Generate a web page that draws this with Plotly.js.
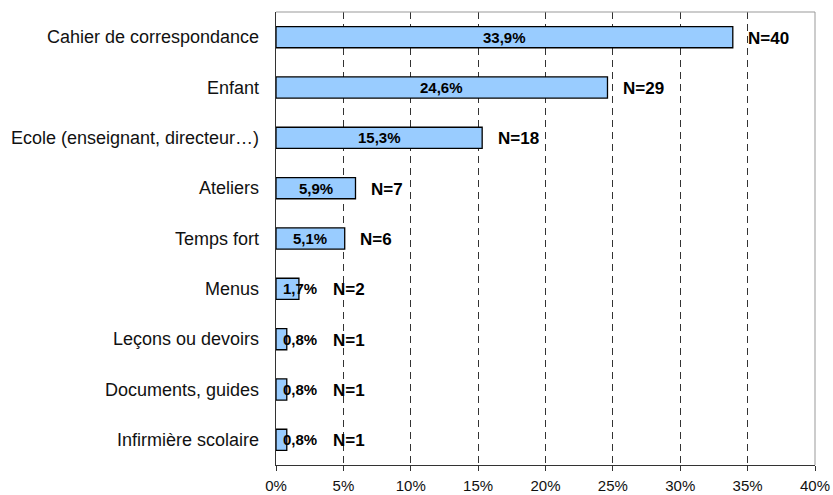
<!DOCTYPE html>
<html>
<head>
<meta charset="utf-8">
<script src="https://cdn.plot.ly/plotly-3.0.1.min.js"></script>
<style>html,body{margin:0;padding:0;background:#fff;}#chart{width:833px;height:495px;}</style>
</head>
<body>
<div id="chart"></div>
<script>
var categories = ["Cahier de correspondance", "Enfant", "Ecole (enseignant, directeur…)", "Ateliers", "Temps fort", "Menus", "Leçons ou devoirs", "Documents, guides", "Infirmière scolaire"];
var percents = [33.9, 24.6, 15.3, 5.9, 5.1, 1.7, 0.8, 0.8, 0.8];
var counts = [40, 29, 18, 7, 6, 2, 1, 1, 1];
var xTicks = [0, 5, 10, 15, 20, 25, 30, 35, 40];
var xTickLabels = ["0%", "5%", "10%", "15%", "20%", "25%", "30%", "35%", "40%"];

var FONT = "Liberation Sans, Arial, sans-serif";

var trace = {
  type: "bar",
  orientation: "h",
  x: percents,
  y: categories,
  marker: {color: "#99CCFF", line: {color: "#000000", width: 1.3}},
  hoverinfo: "none"
};

var annotations = [];
categories.forEach(function (c, i) {
  var v = percents[i];
  var small = v < 3;
  annotations.push({
    x: small ? 0 : v / 2, y: c, xref: "x", yref: "y",
    text: v.toFixed(1).replace(".", ",") + "%",
    showarrow: false,
    xanchor: small ? "left" : "center",
    xshift: small ? 5 : 0,
    font: {family: FONT, size: 15, color: "#000", weight: "bold"}
  });
  annotations.push({
    x: Math.max(v + 1, 4.1), y: c, xref: "x", yref: "y",
    text: "N=" + counts[i],
    showarrow: false,
    xanchor: "left",
    yshift: -1,
    font: {family: FONT, size: 17, color: "#000", weight: "bold"}
  });
});

var layout = {
  width: 833, height: 495,
  margin: {l: 276, r: 18, t: 12, b: 30},
  paper_bgcolor: "#fff", plot_bgcolor: "#fff",
  showlegend: false,
  bargap: 0.58,
  font: {family: FONT, color: "#000"},
  xaxis: {
    range: [0, 40],
    tickvals: xTicks, ticktext: xTickLabels,
    tickfont: {family: FONT, size: 15, color: "#111"},
    ticks: "outside", ticklen: 5, tickcolor: "#333", tickwidth: 1,
    ticklabelstandoff: 2,
    showline: true, linecolor: "#333", linewidth: 1.3,
    showgrid: true, gridcolor: "#333", gridwidth: 1, griddash: "7px,5px",
    zeroline: false, fixedrange: true
  },
  yaxis: {
    autorange: "reversed",
    tickfont: {family: FONT, size: 18, color: "#111"},
    ticks: "", ticklabelstandoff: 12,
    showline: true, linecolor: "#333", linewidth: 1.3,
    showgrid: false, zeroline: false, fixedrange: true
  },
  shapes: [
    {type: "line", xref: "paper", yref: "paper", x0: 0, x1: 1, y0: 1, y1: 1, line: {color: "#999", width: 1}},
    {type: "line", xref: "paper", yref: "paper", x0: 1, x1: 1, y0: 0, y1: 1, line: {color: "#999", width: 1}}
  ],
  annotations: annotations
};

Plotly.newPlot("chart", [trace], layout, {displayModeBar: false, staticPlot: true});
</script>
</body>
</html>
